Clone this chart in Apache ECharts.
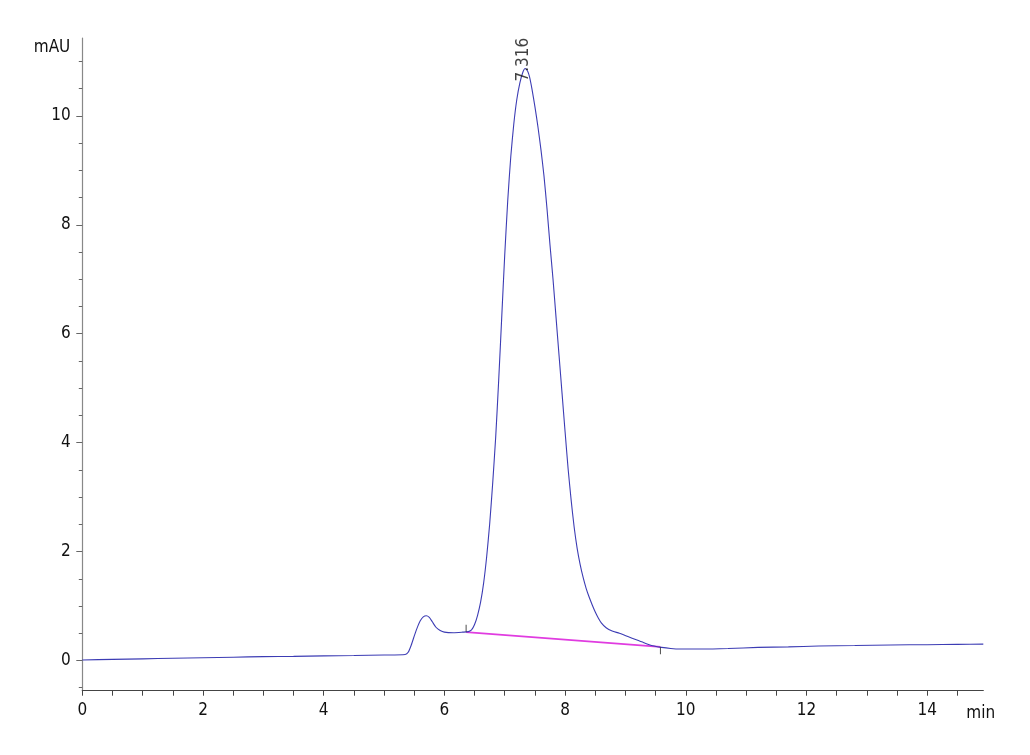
<!DOCTYPE html>
<html><head><meta charset="utf-8">
<script src="https://cdn.jsdelivr.net/npm/echarts@6/dist/echarts.min.js"></script>
<style>html,body{margin:0;padding:0;background:#fff}#c{width:1030px;height:755px}</style>
</head><body><div id="c"></div>
<script>
// Chromatogram signal (min, mAU)
const signal = [
  [0,0.01],[0.5,0.02],[1,0.03],[1.5,0.04],[2,0.05],[2.5,0.06],[3,0.07],[3.5,0.075],[4,0.085],[4.5,0.09],[5,0.10],[5.35,0.11],
  [5.40,0.15],[5.45,0.28],[5.51,0.48],[5.56,0.63],[5.60,0.73],[5.65,0.80],[5.70,0.82],[5.75,0.79],[5.80,0.71],[5.86,0.61],[5.93,0.55],[6.0,0.52],
  [6.15,0.51],[6.3,0.52],[6.4,0.53],[6.45,0.56],[6.5,0.66],[6.55,0.83],[6.6,1.07],[6.65,1.42],[6.7,1.9],[6.75,2.5],[6.8,3.25],[6.85,4.1],
  [6.9,5.15],[6.95,6.3],[7.0,7.45],[7.05,8.45],[7.1,9.25],[7.15,9.85],[7.2,10.3],[7.25,10.6],[7.3,10.8],[7.34,10.87],[7.38,10.82],
  [7.41,10.72],[7.45,10.5],[7.5,10.17],[7.55,9.8],[7.6,9.38],[7.65,8.9],[7.7,8.3],[7.75,7.63],[7.8,7.0],[7.85,6.3],[7.9,5.6],[7.95,4.9],
  [8.0,4.2],[8.05,3.52],[8.1,2.95],[8.15,2.45],[8.2,2.06],[8.25,1.76],[8.3,1.52],[8.35,1.32],[8.4,1.16],[8.45,1.02],[8.5,0.89],[8.55,0.78],
  [8.6,0.69],[8.68,0.6],[8.78,0.54],[8.9,0.50],[9.04,0.44],[9.18,0.38],[9.32,0.32],[9.45,0.27],[9.6,0.24],[9.75,0.22],[9.9,0.21],
  [10.3,0.21],[10.7,0.22],[11.2,0.24],[11.7,0.25],[12.2,0.265],[12.8,0.275],[13.4,0.285],[14.0,0.29],[14.5,0.295],[14.93,0.30]
];
// Integration baseline (start, end)
const baseline = [[6.36,0.52],[9.58,0.25]];
// Peak annotation: retention time
const peakApex = [7.316, 10.87];
const peakLabel = '7.316';
// Axis ticks
const xLabelTicks = [0,2,4,6,8,10,12,14];
const xTicks = [0,0.5,1,1.5,2,2.5,3,3.5,4,4.5,5,5.5,6,6.5,7,7.5,8,8.5,9,9.5,10,10.5,11,11.5,12,12.5,13,13.5,14,14.5];
const yMajorTicks = [0,2,4,6,8,10];
const yMinorTicks = [-0.5,0.5,1,1.5,2.5,3,3.5,4.5,5,5.5,6.5,7,7.5,8.5,9,9.5,10.5,11];
const xName = 'min';
const yName = 'mAU';

const FONT = "'Liberation Sans Narrow','Arial Narrow','DejaVu Sans Condensed',sans-serif";
const X_MIN = 0, X_MAX = 14.93, Y_MIN = -0.555, Y_MAX = 11.43;

const chart = echarts.init(document.getElementById('c'), null, {renderer: 'canvas'});
chart.setOption({
  backgroundColor: '#ffffff',
  animation: false,
  grid: {left: 82.3, right: 46.7, top: 38, bottom: 64.3, containLabel: false},
  xAxis: [{
    type: 'value', min: X_MIN, max: X_MAX,
    name: xName, nameLocation: 'end', nameGap: -17,
    nameTextStyle: {fontFamily: FONT, fontSize: 17, color: '#111', verticalAlign: 'top', align: 'left', padding: [14, 0, 0, 0]},
    axisLine: {show: true, onZero: false, lineStyle: {color: '#444', width: 1.2}},
    axisTick: {show: true, customValues: xTicks, length: 5, lineStyle: {color: '#444', width: 1}},
    axisLabel: {show: true, customValues: xLabelTicks, margin: 11, fontFamily: FONT, fontSize: 17, color: '#111'},
    splitLine: {show: false}
  }],
  yAxis: [{
    type: 'value', min: Y_MIN, max: Y_MAX,
    name: yName, nameLocation: 'end', nameGap: -10,
    nameTextStyle: {fontFamily: FONT, fontSize: 17, color: '#111', align: 'right', verticalAlign: 'middle', padding: [0, 12, 0, 0]},
    axisLine: {show: true, onZero: false, lineStyle: {color: '#888', width: 1.2}},
    axisTick: {show: true, customValues: yMajorTicks, length: 6, lineStyle: {color: '#666', width: 1}},
    axisLabel: {show: true, customValues: yMajorTicks, margin: 11.5, fontFamily: FONT, fontSize: 17, color: '#111'},
    splitLine: {show: false}
  }, {
    type: 'value', min: Y_MIN, max: Y_MAX, position: 'left',
    axisLine: {show: false, onZero: false},
    axisTick: {show: true, customValues: yMinorTicks, length: 3.5, lineStyle: {color: '#666', width: 1}},
    axisLabel: {show: false},
    splitLine: {show: false}
  }],
  series: [{
    type: 'line', name: 'signal', data: signal, xAxisIndex: 0, yAxisIndex: 0,
    showSymbol: false, smooth: 0.2,
    lineStyle: {color: '#3c3cb4', width: 1.1}, z: 3
  }, {
    type: 'line', name: 'baseline', data: baseline, showSymbol: false,
    lineStyle: {color: '#e03ce0', width: 1.6}, z: 2
  }, {
    type: 'scatter', name: 'events', symbol: 'rect', symbolSize: [1, 7],
    data: baseline.map((p, i) => ({value: p, symbolOffset: [0, i === 0 ? -4 : 4]})),
    itemStyle: {color: '#222'}, z: 4, silent: true
  }, {
    type: 'scatter', name: 'apex', symbolSize: 0,
    data: [peakApex],
    label: {show: true, formatter: peakLabel, position: 'bottom', distance: 13, rotate: 90,
            align: 'left', verticalAlign: 'middle', fontFamily: FONT, fontSize: 17, color: '#111'},
    z: 5, silent: true
  }]
});
</script>
</body></html>
